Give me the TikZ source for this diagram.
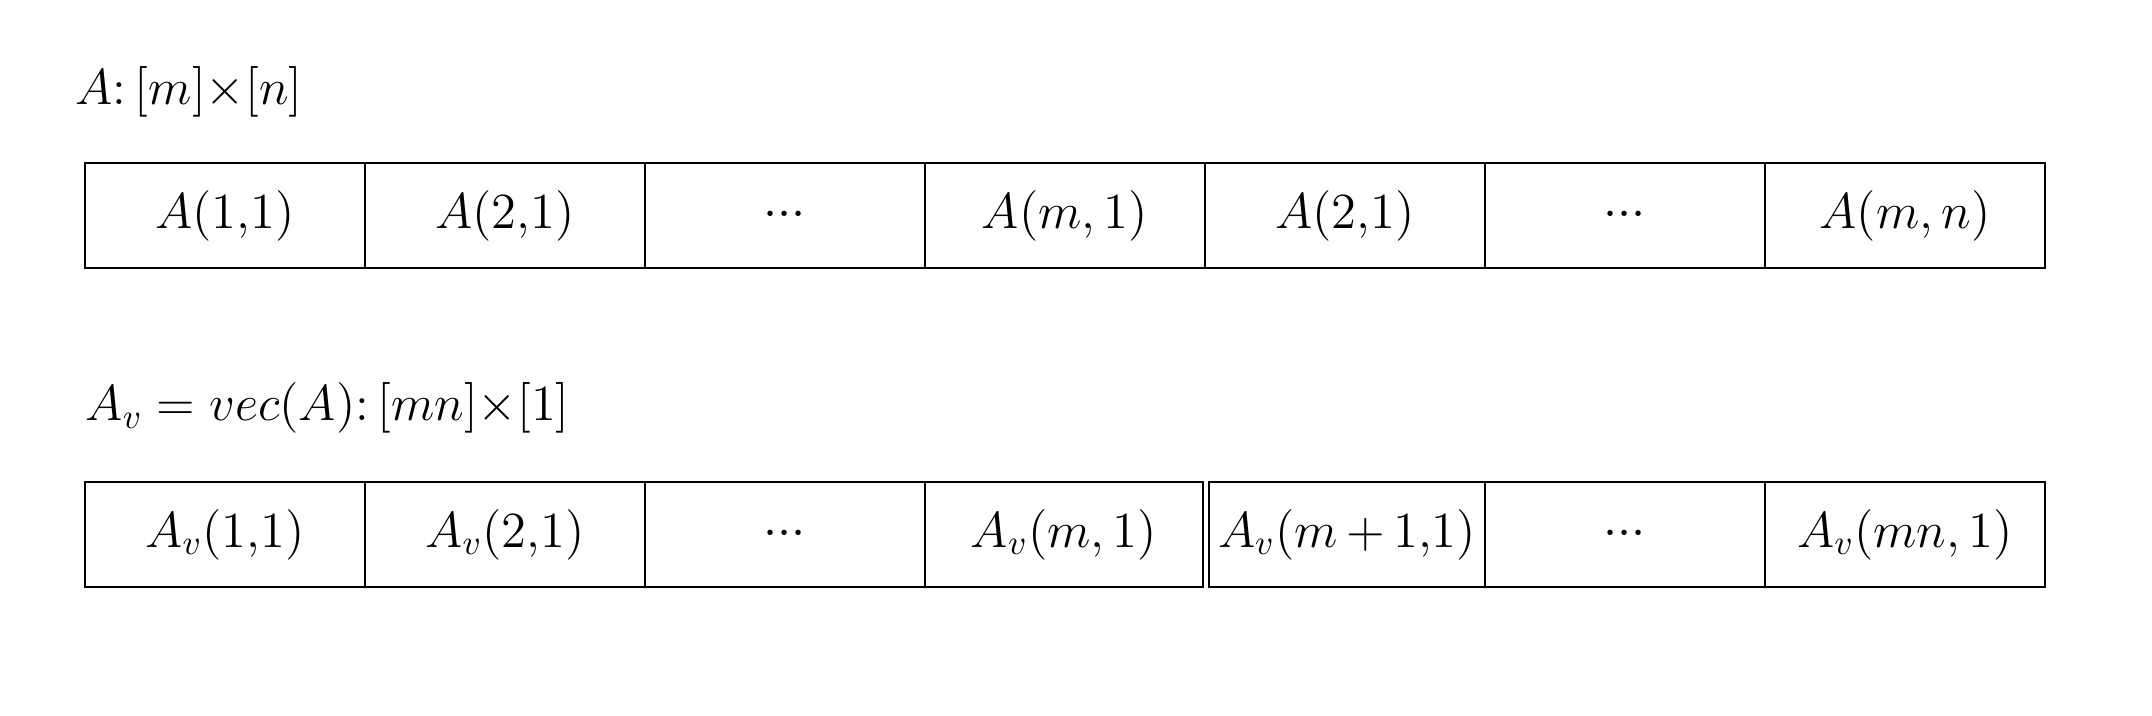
\documentclass[tikz,border=0pt]{standalone}
\usepackage{tikz}
\newcommand{\celldots}{${\cdot}{\cdot}{\cdot}$}
\tikzset{
  cell/.style={draw, line width=0.8pt, minimum width=2.8cm, minimum height=1.05cm,
    inner sep=0pt, outer sep=0pt, anchor=north west, font=\fontsize{14}{17}\selectfont},
  caption/.style={anchor=west, inner sep=0pt, font=\fontsize{14}{17}\selectfont}
}
\begin{document}
\begin{tikzpicture}
\useasboundingbox (0,0) rectangle (21.52,7.16);
\node[caption] (titleA) at (0.75,6.24) {$A{:}\,[m]{\times}[n]$}; %matrix
\node[cell] (a1) at (0.85,5.53) {$A(1{,}1)$};
\node[cell] (a2) at (3.65,5.53) {$A(2{,}1)$};
\node[cell] (a3) at (6.45,5.53) {\celldots};
\node[cell] (a4) at (9.25,5.53) {$A(m,1)$};
\node[cell] (a5) at (12.05,5.53) {$A(2{,}1)$};
\node[cell] (a6) at (14.85,5.53) {\celldots};
\node[cell] (a7) at (17.65,5.53) {$A(m,n)$};

\node[caption] (titleAv) at (0.85,3.08) {$A_v = vec(A){:}\,[mn]{\times}[1]$}; %vector
\node[cell] (b1) at (0.85,2.34) {$A_v(1{,}1)$};
\node[cell] (b2) at (3.65,2.34) {$A_v(2{,}1)$};
\node[cell] (b3) at (6.45,2.34) {\celldots};
\node[cell, minimum width=2.78cm] (b4) at (9.25,2.34) {$A_v(m,1)$};
\node[cell, minimum width=2.76cm] (b5) at (12.09,2.34) {$A_v(m\mkern-1mu+\mkern-1mu1{,}1)$}; %double line
\node[cell] (b6) at (14.85,2.34) {\celldots};
\node[cell] (b7) at (17.65,2.34) {$A_v(mn,1)$};
\end{tikzpicture}
\end{document}
